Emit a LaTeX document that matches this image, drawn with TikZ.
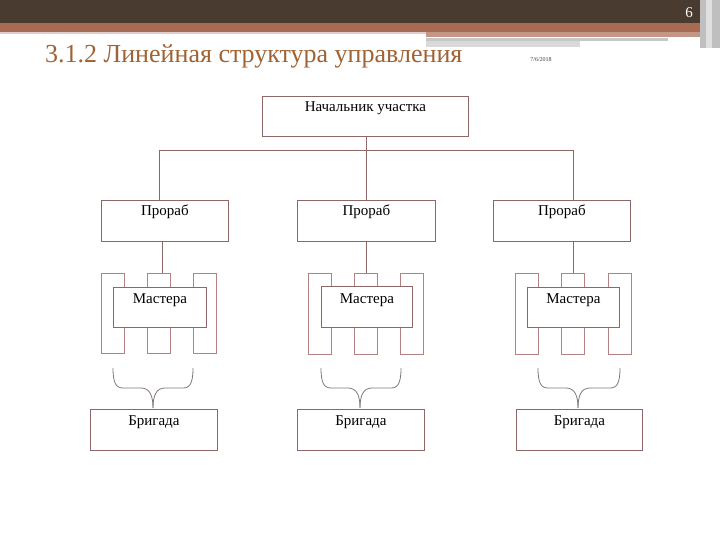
\documentclass[tikz,border=0pt]{standalone}
\usepackage{fontspec}
\setmainfont{Liberation Serif}
\definecolor{lc}{RGB}{140,104,104}
\definecolor{lc2}{RGB}{180,130,130}
\definecolor{bc}{RGB}{130,120,120}
\definecolor{topdark}{RGB}{74,59,48}
\definecolor{topbrown}{RGB}{168,106,82}
\definecolor{titlec}{RGB}{160,98,52}
\tikzset{
  box/.style={draw=lc, fill=white, line width=0.8pt, inner sep=0pt, anchor=north west},
  tall/.style={draw=lc2, fill=white, line width=0.8pt, inner sep=0pt, anchor=north west, minimum width=23, minimum height=80},
  lbl/.style={font=\fontsize{15}{16}\selectfont, anchor=north, inner sep=0pt},
  conn/.style={draw=lc, line width=0.8pt},
  brc/.style={draw=bc, line width=0.8pt},
}
\newcommand{\mybrace}[4]{% left x, right x, tip x, name
  \coordinate (#4a) at (#1,368);
  \coordinate (#4b) at (#2,368);
  \coordinate (#4t) at (#3,408);
  \draw[brc] (#4a) .. controls (#1,383) and (#1+3,388) .. (#1+10,388)
     -- (#3-12,388) .. controls (#3-3,388) and (#3,396) .. (#4t);
  \draw[brc] (#4b) .. controls (#2,383) and (#2-3,388) .. (#2-10,388)
     -- (#3+12,388) .. controls (#3+3,388) and (#3,396) .. (#4t);
}
\begin{document}
\begin{tikzpicture}[x=1pt,y=-1pt]
\useasboundingbox (0,0) rectangle (720,540);
% header
\fill[topdark] (0,0) rectangle (720,23);
\fill[topbrown] (0,23) rectangle (720,32);
\fill[lc2!40] (0,32) rectangle (426,34);
\fill[topbrown!70] (426,32) rectangle (700,37);
\fill[black!22] (426,38) rectangle (668,41);
\fill[black!15] (426,41) rectangle (580,47);
\fill[black!25] (700,0) rectangle (720,48);
\fill[black!12] (706,0) rectangle (712,48);
\node[text=white, font=\fontsize{15}{15}\selectfont, inner sep=0pt] (pnum) at (689,13) {6};
\node[text=titlec, font=\fontsize{26}{28}\selectfont, anchor=base west, inner sep=0pt] (title) at (45,63) {3.1.2 Линейная структура управления};
\node[text=topdark, font=\fontsize{6}{7}\selectfont, inner sep=0pt] (date) at (541,60) {7/6/2018};
% boss
\node[box, minimum width=206, minimum height=40] (boss) at (262,96) {};
\node[lbl] (bosst) at ([yshift=-5]boss.north) {Начальник участка};
% prorab
\node[box, minimum width=127, minimum height=41] (p1) at (101,200) {};
\node[box, minimum width=138, minimum height=41] (p2) at (297,200) {};
\node[box, minimum width=137, minimum height=41] (p3) at (493,200) {};
\node[lbl] (p1t) at ([yshift=-5]p1.north) {Прораб};
\node[lbl] (p2t) at ([yshift=-5]p2.north) {Прораб};
\node[lbl] (p3t) at ([yshift=-5]p3.north) {Прораб};
\coordinate (j1) at (159,200);
\coordinate (j2) at (366,200);
\coordinate (j3) at (573,200);
\draw[conn] (boss.south -| j2) -- (j2);
\draw[conn] (j1) -- ++(0,-50) -| (j3);
% group 1
\node[tall] (g1a) at (101,273) {};
\node[tall] (g1b) at (147,273) {};
\node[tall] (g1c) at (193,273) {};
\node[box, minimum width=93, minimum height=40] (m1) at (113,287) {};
\node[lbl] (m1t) at ([yshift=-6]m1.north) {Мастера};
\coordinate (k1) at (162,241);
\draw[conn] (k1) -- (k1 |- g1b.north);
% group 2
\node[tall, minimum height=81] (g2a) at (308,273) {};
\node[tall, minimum height=81] (g2b) at (354,273) {};
\node[tall, minimum height=81] (g2c) at (400,273) {};
\node[box, minimum width=91, minimum height=41] (m2) at (321,286) {};
\node[lbl] (m2t) at ([yshift=-7]m2.north) {Мастера};
\coordinate (k2) at (366,241);
\draw[conn] (k2) -- (k2 |- g2b.north);
% group 3
\node[tall, minimum height=81] (g3a) at (515,273) {};
\node[tall, minimum height=81] (g3b) at (561,273) {};
\node[tall, minimum height=81] (g3c) at (608,273) {};
\node[box, minimum width=92, minimum height=40] (m3) at (527,287) {};
\node[lbl] (m3t) at ([yshift=-6]m3.north) {Мастера};
\coordinate (k3) at (573,241);
\draw[conn] (k3) -- (k3 |- g3b.north);
% braces
\mybrace{113}{193}{153}{br1}
\mybrace{321}{401}{360}{br2}
\mybrace{538}{620}{578}{br3}
% brigades
\node[box, minimum width=127, minimum height=41] (b1) at (90,409) {};
\node[box, minimum width=127, minimum height=41] (b2) at (297,409) {};
\node[box, minimum width=126, minimum height=41] (b3) at (516,409) {};
\node[lbl] (b1t) at ([yshift=-6]b1.north) {Бригада};
\node[lbl] (b2t) at ([yshift=-6]b2.north) {Бригада};
\node[lbl] (b3t) at ([yshift=-6]b3.north) {Бригада};
\end{tikzpicture}
\end{document}
